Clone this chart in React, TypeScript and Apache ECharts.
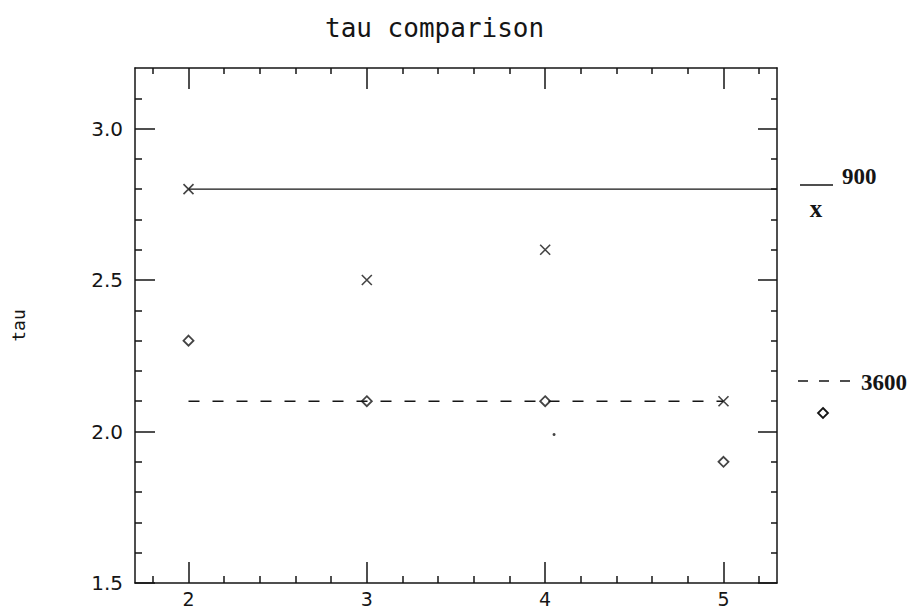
import React, { useEffect, useRef } from "react";
import * as echarts from "echarts";

// ---- data ----
const titleText = "tau comparison";
const yAxisName = "tau";
const seriesNames = ["900", "3600"];
const xValues = [2, 3, 4, 5];
const tau900 = [2.8, 2.5, 2.6, 2.1];
const tau3600 = [2.3, 2.1, 2.1, 1.9];
const ref900 = [[2, 2.8], [5.3, 2.8]];
const ref3600 = [[2, 2.1], [5, 2.1]];
const speck = [[4.05, 1.99]];
const xMajor = [2, 3, 4, 5];
const xMinor = [1.8, 2.2, 2.4, 2.6, 2.8, 3.2, 3.4, 3.6, 3.8, 4.2, 4.4, 4.6, 4.8, 5.2];
const yMajor = [1.5, 2.0, 2.5, 3.0];
const yMinor = [1.6, 1.7, 1.8, 1.9, 2.1, 2.2, 2.3, 2.4, 2.6, 2.7, 2.8, 2.9, 3.1];
const xRange = [1.7, 5.3];
const yRange = [1.5, 3.2];

const INK = "#151515";
const LABEL_FONT = '"DejaVu Sans", sans-serif';
const LEGEND_FONT = '"Liberation Serif", serif';

function makeX(position: string, ticks: number[], len: number, labels: boolean, lineShow: boolean) {
  return {
    type: "value",
    position,
    min: xRange[0],
    max: xRange[1],
    axisLine: { show: lineShow, lineStyle: { color: INK, width: 1.5 } },
    axisTick: { show: true, inside: true, length: len, customValues: ticks, lineStyle: { color: INK, width: 1.5 } },
    axisLabel: labels
      ? { show: true, customValues: ticks, color: INK, fontSize: 19, fontFamily: LABEL_FONT, margin: 6 }
      : { show: false },
    splitLine: { show: false },
  };
}

function makeY(position: string, ticks: number[], len: number, labels: boolean, lineShow: boolean, name?: string) {
  return {
    type: "value",
    position,
    min: yRange[0],
    max: yRange[1],
    name: name || "",
    nameLocation: "middle",
    nameGap: 108,
    nameTextStyle: { color: INK, fontSize: 18, fontFamily: '"DejaVu Sans Mono", monospace' },
    axisLine: { show: lineShow, lineStyle: { color: INK, width: 1.5 } },
    axisTick: { show: true, inside: true, length: len, customValues: ticks, lineStyle: { color: INK, width: 1.5 } },
    axisLabel: labels
      ? {
          show: true,
          customValues: ticks,
          color: INK,
          fontSize: 20,
          fontFamily: LABEL_FONT,
          margin: 12,
          formatter: (v: number) => v.toFixed(1),
        }
      : { show: false },
    splitLine: { show: false },
  };
}

export default function App() {
  const ref = useRef<HTMLDivElement>(null);
  useEffect(() => {
    if (!ref.current) return;
    const chart = echarts.init(ref.current, null, { renderer: "svg" });
    const xMarker = "path://M0,0L10,10M10,0L0,10";
    chart.setOption({
      animation: false,
      backgroundColor: "#ffffff",
      title: {
        text: titleText,
        left: 320,
        top: 10,
        textStyle: { color: INK, fontSize: 26, fontWeight: "normal", fontFamily: '"DejaVu Sans Mono", monospace' },
      },
      grid: { left: 135, right: 135, top: 68, bottom: 26, containLabel: false },
      xAxis: [
        makeX("bottom", xMajor, 21, true, true),
        makeX("bottom", xMinor, 7, false, false),
        makeX("top", xMajor, 21, false, true),
        makeX("top", xMinor, 6, false, false),
      ],
      yAxis: [
        makeY("left", yMajor, 20, true, true, yAxisName),
        makeY("left", yMinor, 7, false, false),
        makeY("right", yMajor, 19, false, true),
        makeY("right", yMinor, 6, false, false),
      ],
      series: [
        {
          type: "line",
          name: seriesNames[0] + " ref",
          data: ref900,
          symbol: "none",
          lineStyle: { color: INK, width: 1.3 },
          silent: true,
        },
        {
          type: "line",
          name: seriesNames[1] + " ref",
          data: ref3600,
          symbol: "none",
          lineStyle: { color: INK, width: 1.3, type: [11, 13] },
          silent: true,
        },
        {
          type: "scatter",
          name: seriesNames[0],
          data: xValues.map((x, i) => [x, tau900[i]]),
          symbol: xMarker,
          symbolSize: 10,
          itemStyle: { color: "transparent", borderColor: INK, borderWidth: 1.6 },
        },
        {
          type: "scatter",
          name: seriesNames[1],
          data: xValues.map((x, i) => [x, tau3600[i]]),
          symbol: "diamond",
          symbolSize: 10,
          itemStyle: { color: "transparent", borderColor: INK, borderWidth: 1.8 },
        },
        {
          type: "scatter",
          name: "speck",
          data: speck,
          symbol: "circle",
          symbolSize: 3,
          itemStyle: { color: INK },
        },
      ],
      graphic: [
        { type: "line", shape: { x1: 800, y1: 185, x2: 833, y2: 185 }, style: { stroke: INK, lineWidth: 1.3 } },
        {
          type: "text",
          x: 842,
          y: 176,
          style: { text: seriesNames[0], fill: INK, font: `bold 23px ${LEGEND_FONT}`, verticalAlign: "middle", align: "left" },
        },
        {
          type: "text",
          x: 816,
          y: 208,
          style: { text: "x", fill: INK, font: `bold 25px ${LEGEND_FONT}`, verticalAlign: "middle", align: "center" },
        },
        {
          type: "line",
          shape: { x1: 798, y1: 381, x2: 850, y2: 381 },
          style: { stroke: INK, lineWidth: 1.3, lineDash: [10, 11] },
        },
        {
          type: "text",
          x: 861,
          y: 382,
          style: { text: seriesNames[1], fill: INK, font: `bold 23px ${LEGEND_FONT}`, verticalAlign: "middle", align: "left" },
        },
        {
          type: "polygon",
          shape: { points: [[823, 408], [828, 413], [823, 418], [818, 413]] },
          style: { fill: "none", stroke: INK, lineWidth: 1.8 },
        },
      ],
    });
    return () => chart.dispose();
  }, []);
  return <div ref={ref} style={{ width: 912, height: 609, position: "absolute", left: 0, top: 0 }} />;
}
